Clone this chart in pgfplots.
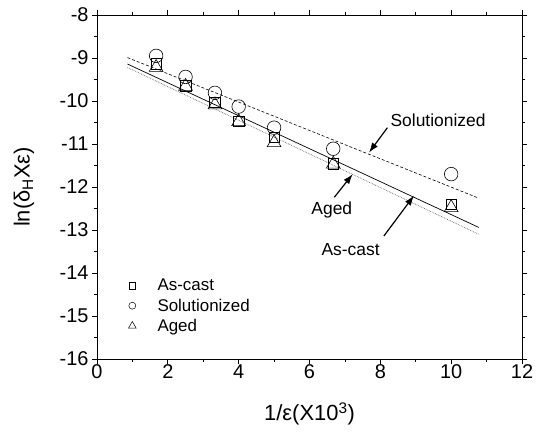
\documentclass[border=0pt]{standalone}
\usepackage{pgfplots}
\pgfplotsset{compat=1.18}
\usepackage{fontspec}
\setmainfont{Liberation Sans}
\usetikzlibrary{arrows.meta}

\begin{document}
\begin{tikzpicture}
\useasboundingbox (-97bp,-73bp) rectangle (444bp,359bp);
\begin{axis}[
    scale only axis,
    width=425bp, height=344bp,
    xmin=0, xmax=12, ymin=-16, ymax=-8,
    xtick={0,2,...,12}, ytick={-16,-15,...,-8},
    minor x tick num=1, minor y tick num=1,
    tick align=outside,
    major tick length=5bp, minor tick length=3bp,
    axis line style={line width=1pt},
    every tick/.style={black, line width=0.8pt},
    /pgf/number format/assume math mode=true,
    tick label style={font=\fontsize{20}{24}\selectfont},
    xticklabel style={yshift=3bp},
    label style={font=\fontsize{22}{26}\selectfont},
    xlabel={1/ε(X10\textsuperscript{3})},
    ylabel={ln(δ\textsubscript{H}Xε)},
    xlabel style={at={(axis description cs:0.5,-0.16)}, anchor=center},
    ylabel style={at={(axis description cs:-0.172,0.5)}, anchor=center},
    legend style={draw=none, fill=none, at={(axis description cs:0.061,0.154)},
        anchor=west, font=\fontsize{17}{20}\selectfont, row sep=2.5pt,
        cells={anchor=west}},
    legend image code/.code={\path (0bp,-3bp) (29bp,3bp);
        \draw[#1] plot coordinates {(6bp,0bp)};},
]
% fitted lines
\addplot[forget plot, black, dash pattern=on 3pt off 2pt, line width=0.6pt]
    coordinates {(0.86,-8.99) (10.78,-12.26)};
\addplot[forget plot, black, line width=0.7pt]
    coordinates {(0.86,-9.14) (10.78,-12.94)};
\addplot[forget plot, black!60, densely dotted, line width=0.7pt]
    coordinates {(0.86,-9.22) (10.78,-13.10)};

% measured points
\addplot[forget plot, only marks, mark=square, mark size=5.3pt, mark options={line width=0.6pt}]
    coordinates {(1.67,-9.14) (2.5,-9.64) (3.33,-10.03) (4,-10.47) (5,-10.84) (6.67,-11.46) (10,-12.40)};
\addplot[forget plot, only marks, mark=o, mark size=6.8pt, mark options={line width=0.6pt}]
    coordinates {(1.67,-8.95) (2.5,-9.44) (3.33,-9.81) (4,-10.13) (5,-10.62) (6.67,-11.11) (10,-11.70)};
\addplot[forget plot, only marks, mark=triangle, mark size=8pt, mark options={line width=0.6pt}]
    coordinates {(1.67,-9.22) (2.5,-9.66) (3.33,-10.09) (4,-10.48) (5,-10.97) (6.67,-11.47) (10,-12.48)};

\addlegendimage{only marks, mark=square, mark size=3.2pt, mark options={line width=0.5pt}}
\addlegendentry{As-cast}
\addlegendimage{only marks, mark=o, mark size=3.5pt, mark options={line width=0.5pt}}
\addlegendentry{Solutionized}
\addlegendimage{only marks, mark=triangle, mark size=4.5pt, mark options={line width=0.5pt}}
\addlegendentry{Aged}

% annotations
\node[font=\fontsize{17.5}{21}\selectfont] at (axis cs:9.63,-10.45) {Solutionized};
\draw[-{Latex[length=10bp,width=7bp]}, line width=1.2pt]
    (axis cs:8.2,-10.62) -- (axis cs:7.68,-11.2);
\node[font=\fontsize{17.5}{21}\selectfont] at (axis cs:6.63,-12.53) {Aged};
\draw[-{Latex[length=10bp,width=7bp]}, line width=1.2pt]
    (axis cs:6.70,-12.24) -- (axis cs:7.22,-11.70);
\node[font=\fontsize{17.5}{21}\selectfont] at (axis cs:7.16,-13.45) {As-cast};
\draw[-{Latex[length=10bp,width=7bp]}, line width=1.2pt]
    (axis cs:8.1,-13.14) -- (axis cs:8.95,-12.2);
\end{axis}
\end{tikzpicture}
\end{document}
